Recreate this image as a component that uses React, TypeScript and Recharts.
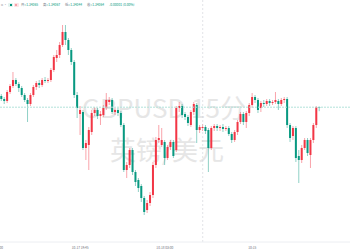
import React from 'react'
import { ComposedChart, Bar, XAxis, YAxis, ReferenceLine } from 'recharts'

// GBPUSD 15分 — OHLC
const opens = [
  1.3412, 1.34105, 1.34095, 1.3414, 1.3417, 1.342, 1.3418, 1.3416, 1.34125, 1.341,
  1.3408, 1.34125, 1.34165, 1.34185, 1.34175, 1.342, 1.34195, 1.342, 1.3425, 1.3431,
  1.34325, 1.34375, 1.3444, 1.344, 1.3435, 1.3429, 1.34125, 1.3403, 1.3404, 1.3386,
  1.33875, 1.3394, 1.34035, 1.3405, 1.3402, 1.34025, 1.3406, 1.3409, 1.341, 1.3404,
  1.3405, 1.34035, 1.33975, 1.3375, 1.33775, 1.3385, 1.3374, 1.337, 1.3367, 1.3361,
  1.3355, 1.33585, 1.33625, 1.33775, 1.339, 1.33875, 1.3389, 1.3381, 1.33865, 1.3389,
  1.3385, 1.3406, 1.3407, 1.3403, 1.34015, 1.33975, 1.3404, 1.34075, 1.3395, 1.3396,
  1.33965, 1.3395, 1.3386, 1.3396, 1.3397, 1.3396, 1.33965, 1.33955, 1.3396, 1.3393,
  1.339, 1.3394, 1.3399, 1.3403, 1.3399, 1.34035, 1.34075, 1.34115, 1.341, 1.3406,
  1.34085, 1.3408, 1.34095, 1.34085, 1.3409, 1.34095, 1.3408, 1.341, 1.34105, 1.33975,
  1.3392, 1.3396, 1.3382, 1.338, 1.3386, 1.339, 1.33825, 1.339, 1.33975, 1.34065,
]
const highs = [
  1.3413, 1.34115, 1.3415, 1.3418, 1.3424, 1.3421, 1.3419, 1.3417, 1.34135, 1.3411,
  1.34135, 1.34175, 1.34195, 1.342, 1.3421, 1.34215, 1.3421, 1.3426, 1.34325, 1.3435,
  1.3439, 1.34475, 1.34475, 1.3441, 1.3436, 1.343, 1.3414, 1.3407, 1.3405, 1.339,
  1.33965, 1.3405, 1.34065, 1.3406, 1.34045, 1.34075, 1.34135, 1.34115, 1.3411, 1.3406,
  1.3406, 1.34045, 1.33985, 1.3379, 1.3386, 1.3386, 1.3375, 1.3371, 1.3368, 1.3362,
  1.336, 1.3364, 1.3379, 1.33915, 1.33975, 1.3396, 1.339, 1.33875, 1.339, 1.339,
  1.3407, 1.3409, 1.3408, 1.3404, 1.34025, 1.3405, 1.3409, 1.34085, 1.33975, 1.3398,
  1.33975, 1.3396, 1.3397, 1.3398, 1.3398, 1.33975, 1.3398, 1.3397, 1.3397, 1.3394,
  1.3395, 1.34, 1.3404, 1.3404, 1.34045, 1.34085, 1.34135, 1.34125, 1.3411, 1.34095,
  1.341, 1.34105, 1.34105, 1.341, 1.3414, 1.34105, 1.3411, 1.34115, 1.34115, 1.33985,
  1.3397, 1.3397, 1.3385, 1.33875, 1.3391, 1.3391, 1.3391, 1.33985, 1.3407, 1.34067,
]
const lows = [
  1.34095, 1.3408, 1.34085, 1.3413, 1.3416, 1.3417, 1.3414, 1.34115, 1.3409, 1.3399,
  1.3407, 1.34115, 1.3415, 1.3416, 1.34165, 1.34185, 1.34185, 1.3419, 1.3424, 1.3429,
  1.3431, 1.34365, 1.34375, 1.34325, 1.34275, 1.3411, 1.3401, 1.33925, 1.3385, 1.338,
  1.3375, 1.33925, 1.3402, 1.34005, 1.33975, 1.34015, 1.3405, 1.34075, 1.3403, 1.34025,
  1.3402, 1.33965, 1.3374, 1.3371, 1.3376, 1.33725, 1.3367, 1.3364, 1.3359, 1.33525,
  1.33535, 1.3357, 1.3361, 1.3376, 1.33885, 1.33865, 1.33775, 1.338, 1.3385, 1.3381,
  1.3384, 1.3404, 1.3401, 1.34, 1.3397, 1.33965, 1.34025, 1.33885, 1.33935, 1.33945,
  1.3393, 1.3374, 1.3385, 1.33945, 1.33945, 1.33945, 1.3394, 1.33945, 1.3392, 1.33885,
  1.3389, 1.33925, 1.3398, 1.33975, 1.3396, 1.3402, 1.3406, 1.34085, 1.34035, 1.3404,
  1.34065, 1.3407, 1.3407, 1.34075, 1.3408, 1.3405, 1.3407, 1.34085, 1.3396, 1.3389,
  1.339, 1.3379, 1.33685, 1.33785, 1.3385, 1.3382, 1.3376, 1.33885, 1.3396, 1.34044,
]
const closes = [
  1.34105, 1.34095, 1.3414, 1.3417, 1.342, 1.3418, 1.3416, 1.34125, 1.341, 1.3408,
  1.34125, 1.34165, 1.34185, 1.34175, 1.342, 1.34195, 1.342, 1.3425, 1.34315, 1.34325,
  1.34375, 1.3444, 1.344, 1.3435, 1.3429, 1.34125, 1.3406, 1.3405, 1.3386, 1.33885,
  1.3395, 1.34035, 1.3405, 1.3402, 1.3403, 1.3406, 1.341, 1.341, 1.3404, 1.3405,
  1.34035, 1.33975, 1.3375, 1.33775, 1.3385, 1.3374, 1.3369, 1.3366, 1.3361, 1.3354,
  1.33585, 1.33625, 1.33775, 1.339, 1.3391, 1.339, 1.3381, 1.33865, 1.3389, 1.3382,
  1.3406, 1.3407, 1.34025, 1.34015, 1.33985, 1.3404, 1.3408, 1.3395, 1.33965, 1.33965,
  1.33945, 1.3386, 1.3396, 1.3397, 1.3396, 1.33965, 1.33955, 1.3396, 1.3393, 1.339,
  1.3394, 1.3399, 1.3403, 1.3399, 1.34035, 1.34075, 1.34115, 1.341, 1.3405, 1.34085,
  1.3408, 1.34095, 1.34085, 1.3409, 1.341, 1.3408, 1.341, 1.34105, 1.33975, 1.3391,
  1.3396, 1.3381, 1.338, 1.3386, 1.339, 1.33835, 1.339, 1.33975, 1.34065, 1.34064,
]

const tickIndex = [0, 27, 56, 86]
const tickLabels = ['10-17 13:00', '10-17 19:45', '10-18 03:00', '10:15']

const headerLabels = ['开', '高', '低', '收']
const headerValues = ['1.34065', '1.34067', '1.34044', '1.34064']
const headerChange = '-0.00001 (0.00%)'

const UP = '#f23645'
const DOWN = '#089981'
const SPARE_SLOTS = 10 // empty space right of the last candle

const data = [
  ...opens.map((o, i) => ({
    i,
    open: o,
    high: highs[i],
    low: lows[i],
    close: closes[i],
    range: [lows[i], highs[i]],
  })),
  ...Array.from({ length: SPARE_SLOTS }, (_, k) => ({ i: opens.length + k, range: null })),
]

// one candle: pale wick + solid body
const Candle = (props: any) => {
  const { x, y, width, height, payload } = props
  if (!payload || payload.open == null) return null
  const { open, close, high, low } = payload
  const top = Math.min(y, y + height)
  const h = Math.abs(height)
  const color = close >= open ? UP : DOWN
  const span = high - low || 1
  const toY = (v: number) => top + ((high - v) / span) * h
  const cx = x + width / 2
  const bTop = toY(Math.max(open, close))
  const bBot = toY(Math.min(open, close))
  return (
    <g>
      <line x1={cx} x2={cx} y1={top} y2={top + h} stroke={color} strokeOpacity={0.45} strokeWidth={1} />
      <rect x={cx - 1} y={bTop} width={2} height={Math.max(bBot - bTop, 1)} fill={color} />
    </g>
  )
}

const TimeTick = (props: any) => {
  const { x, payload } = props
  const k = tickIndex.indexOf(payload.value)
  if (k < 0) return null
  const first = k === 0
  return (
    <text
      x={first ? 3 : x}
      y={248.5}
      fontSize={3.2}
      fill="#6a6d78"
      textAnchor={first ? 'end' : 'middle'}
    >
      {tickLabels[k]}
    </text>
  )
}

const FONT = "'Noto Sans CJK SC', 'Noto Sans', sans-serif"

const watermark: React.CSSProperties = {
  position: 'absolute',
  width: 350,
  textAlign: 'center',
  fontSize: 26,
  lineHeight: '26px',
  color: '#e6e6e6',
  whiteSpace: 'nowrap',
}

export default function App() {
  return (
    <div
      style={{
        position: 'fixed',
        left: 0,
        top: 0,
        width: 350,
        height: 250,
        background: '#fff',
        overflow: 'hidden',
        fontFamily: FONT,
      }}
    >
      {/* watermark */}
      <div style={{ ...watermark, left: -11, top: 94 }}>GBPUSD 15分</div>
      <div style={{ ...watermark, left: -8, top: 136 }}>英镑/美元</div>

      <div style={{ position: 'absolute', left: 0, top: 0 }}>
        <ComposedChart
          width={350}
          height={250}
          data={data}
          margin={{ top: 0, right: 0, bottom: 0, left: 0 }}
          barCategoryGap="10%"
        >
          <XAxis
            dataKey="i"
            type="category"
            ticks={tickIndex}
            interval={0}
            tick={<TimeTick />}
            tickLine={false}
            axisLine={{ stroke: '#eceef2' }}
            height={8}
          />
          <YAxis hide domain={[1.3339, 1.346]} allowDataOverflow />
          <ReferenceLine x={69} stroke="#cfd1d6" strokeDasharray="2 2" strokeWidth={0.6} />
          <ReferenceLine y={1.34064} stroke="#b3e2da" strokeDasharray="2 1" strokeWidth={1} />
          <Bar dataKey="range" shape={<Candle />} isAnimationActive={false} />
        </ComposedChart>
      </div>

      {/* OHLC legend */}
      <div
        style={{
          position: 'absolute',
          left: 0,
          top: 3,
          height: 5,
          width: 200,
          fontSize: 3.3,
          lineHeight: '4px',
          whiteSpace: 'nowrap',
        }}
      >
        <span style={{ position: 'absolute', left: 1, color: '#9598a1' }}>ɑ ·</span>
        <span style={{ position: 'absolute', left: 8, top: 0, width: 5, height: 4, background: '#e3f3ef', borderRadius: 1 }}>
          <span style={{ position: 'absolute', left: 1.5, top: 1, width: 2, height: 2, background: DOWN }} />
        </span>
        <span style={{ position: 'absolute', left: 13.5, top: 0, width: 5, height: 4, background: '#fde4e6', borderRadius: 1 }}>
          <span style={{ position: 'absolute', left: 1.5, top: 1, width: 2, height: 2, background: '#f7a1a9' }} />
        </span>
        {headerLabels.map((l, k) => (
          <span key={l} style={{ position: 'absolute', left: 21 + k * 22 }}>
            <span style={{ color: '#6a6d78' }}>{l}</span>
            <span style={{ color: DOWN }}>={headerValues[k]}</span>
          </span>
        ))}
        <span style={{ position: 'absolute', left: 109, color: DOWN }}>{headerChange}</span>
      </div>
    </div>
  )
}
